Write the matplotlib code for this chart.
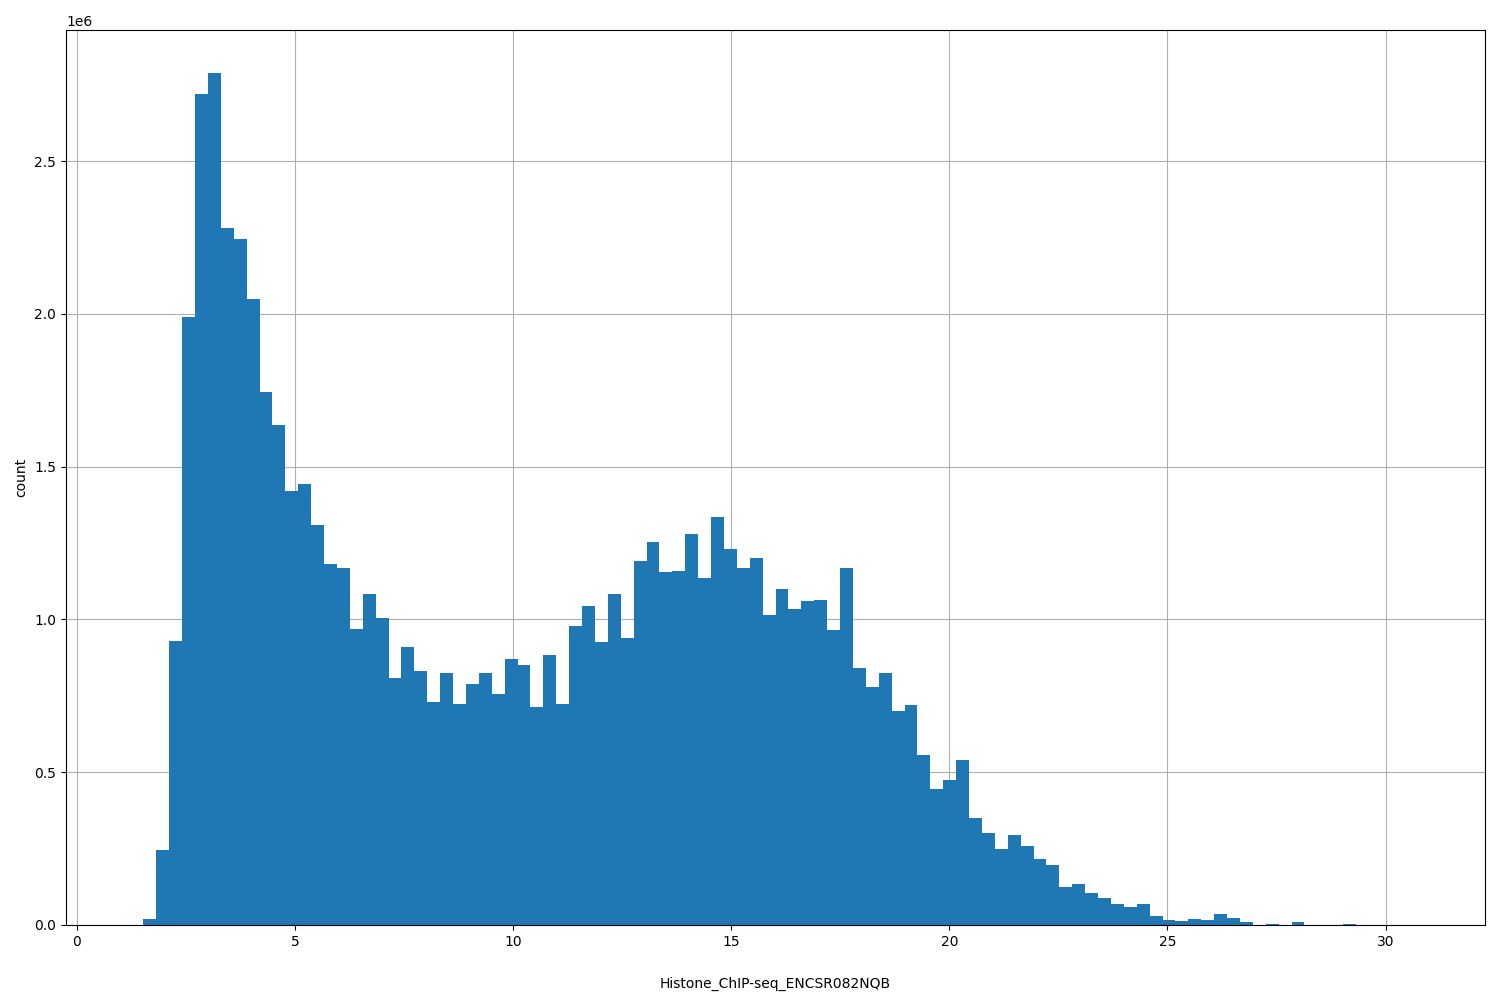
import matplotlib
matplotlib.use('Agg')
import matplotlib.pyplot as plt
import numpy as np

# histogram range and bin counts (millions)
x_min, x_max, n_bins = 1.23, 30.8, 100
counts = [
    0.0, 0.02, 0.245, 0.93, 1.99, 2.72, 2.79, 2.28, 2.245, 2.05,
    1.745, 1.635, 1.42, 1.445, 1.31, 1.18, 1.17, 0.97, 1.085, 1.005,
    0.81, 0.91, 0.83, 0.73, 0.825, 0.725, 0.79, 0.825, 0.755, 0.87,
    0.85, 0.715, 0.885, 0.725, 0.98, 1.045, 0.925, 1.085, 0.94, 1.19,
    1.255, 1.155, 1.16, 1.28, 1.135, 1.335, 1.23, 1.17, 1.2, 1.015,
    1.1, 1.035, 1.06, 1.065, 0.965, 1.17, 0.84, 0.78, 0.825, 0.70,
    0.72, 0.555, 0.445, 0.475, 0.54, 0.35, 0.30, 0.25, 0.295, 0.26,
    0.215, 0.195, 0.125, 0.135, 0.105, 0.09, 0.07, 0.06, 0.07, 0.028,
    0.018, 0.012, 0.02, 0.015, 0.036, 0.022, 0.01, 0.001, 0.004, 0.001,
    0.01, 0.001, 0.001, 0.0, 0.004, 0.0, 0.0, 0.0, 0.0, 0.001,
]

edges = np.linspace(x_min, x_max, n_bins + 1)
centers = (edges[:-1] + edges[1:]) / 2
weights = np.array(counts) * 1e6

fig, ax = plt.subplots(figsize=(15, 10), dpi=100)
ax.hist(centers, bins=edges, weights=weights, color='#1f77b4')
ax.grid(True)
ax.set_axisbelow(True)
ax.set_xlabel('Histone_ChIP-seq_ENCSR082NQB', labelpad=20)
ax.set_ylabel('count')
plt.subplots_adjust(left=0.044, right=0.99, top=0.97, bottom=0.075)
fig.savefig('out.png')
